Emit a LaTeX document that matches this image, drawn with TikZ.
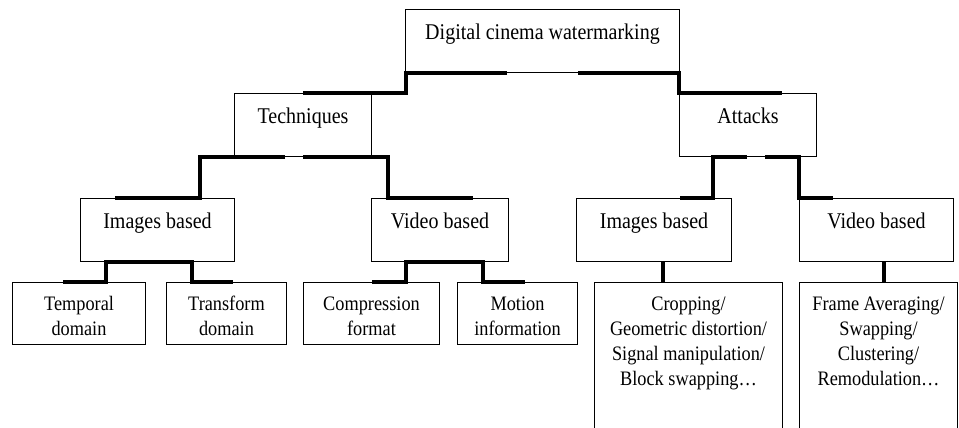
\documentclass[tikz,border=0pt]{standalone}
\usepackage{fontspec}
\setmainfont{Liberation Serif}[FakeStretch=0.89]
\usetikzlibrary{calc}

\begin{document}
\begin{tikzpicture}[x=0.02cm,y=-0.02cm,
  box/.style 2 args={draw, line width=0.6pt, anchor=north west, inner sep=0pt,
    align=center, minimum width=#1, text depth=#2},
  upper/.style={box={#1}{0.66cm}, text height=0.6cm, font=\fontsize{12.8}{15}\selectfont},
  leaf/.style={box={#1}{0.18cm}, text height=1.06cm, font=\fontsize{11.7}{14.2}\selectfont},
  tall/.style={box={#1}{1.14cm}, text height=2.06cm, font=\fontsize{11.7}{14.2}\selectfont},
  link/.style={line width=2.2pt}]
\useasboundingbox (0,0) rectangle (959,428);

\node [upper=5.48cm] (root) at (405,9) {Digital cinema watermarking};
\node [upper=2.74cm] (tech) at (234,93) {Techniques};
\node [upper=2.74cm] (att) at (679,93) {Attacks};
\node [upper=3.08cm] (imgL) at (80,198) {Images based};
\node [upper=2.74cm] (vidL) at (371,198) {Video based};
\node [upper=3.10cm] (imgR) at (576,198) {Images based};
\node [upper=3.08cm] (vidR) at (799,198) {Video based};

\node [leaf=2.66cm] (temp) at (12,282) {Temporal\\domain};
\node [leaf=2.40cm] (trans) at (166,282) {Transform\\domain};
\node [leaf=2.72cm] (comp) at (303,282) {Compression\\format};
\node [leaf=2.40cm] (motion) at (457,282) {Motion\\information};
\node [tall=3.76cm] (crop) at (594,282) {Cropping/\\Geometric distortion/\\Signal manipulation/\\Block swapping…};
\node [tall=3.16cm] (frame) at (799,282) {Frame Averaging/\\Swapping/\\Clustering/\\Remodulation…};

\draw [link] ($(root.south west)+(102,0)$) -| ($(tech.north east)+(34,0)$) -- ($(tech.north west)+(69,0)$);
\draw [link] ($(root.south east)+(-102,0)$) -| (att.north west) -- ($(att.north west)+(103,0)$);

\draw [link] ($(tech.south west)+(51,0)$) -| ($(imgL.north west)+(120,0)$) -- ($(imgL.north west)+(35,0)$);
\draw [link] ($(tech.south west)+(69,0)$) -| ($(vidL.north west)+(17,0)$) -- ($(vidL.north west)+(102,0)$);
\draw [link] ($(att.south west)+(68,0)$) -| ($(imgR.north west)+(137,0)$) -- ($(imgR.north west)+(104,0)$);
\draw [link] ($(att.south west)+(86,0)$) -| (vidR.north west) -- ($(vidR.north west)+(34,0)$);

\draw [link] ($(imgL.south west)+(69,0)$) -| ($(temp.north west)+(94,0)$) -- ($(temp.north west)+(51,0)$);
\draw [link] ($(imgL.south west)+(69,0)$) -| ($(trans.north west)+(26,0)$) -- ($(trans.north west)+(67,0)$);
\draw [link] ($(vidL.south west)+(73,0)$) -| ($(comp.north west)+(103,0)$) -- ($(comp.north west)+(69,0)$);
\draw [link] ($(vidL.south west)+(73,0)$) -| ($(motion.north west)+(26,0)$) -- ($(motion.north west)+(68,0)$);
\draw [link] ($(imgR.south west)+(87,0)$) -- ($(crop.north west)+(69,0)$);
\draw [link] ($(vidR.south west)+(85,0)$) -- ($(frame.north west)+(85,0)$);
\end{tikzpicture}
\end{document}
